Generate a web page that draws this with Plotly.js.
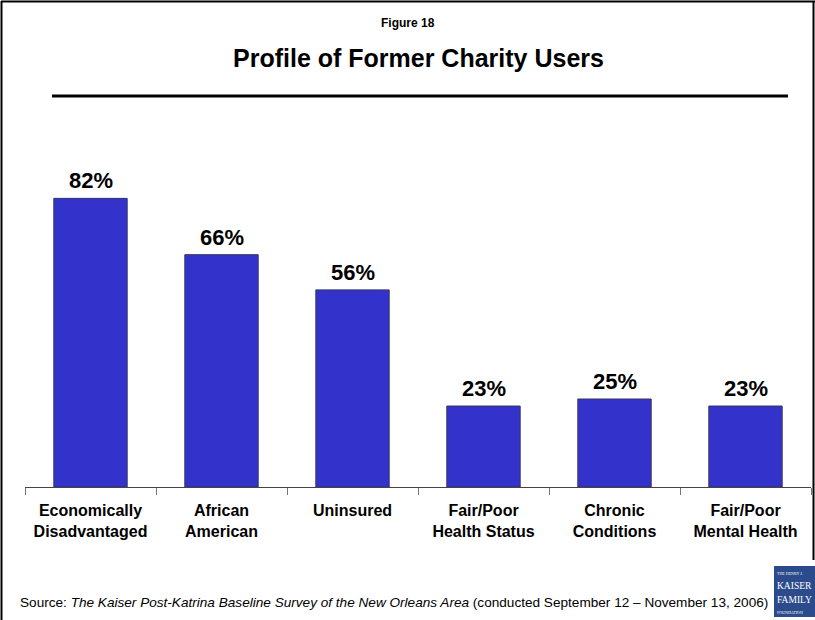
<!DOCTYPE html>
<html>
<head>
<meta charset="utf-8">
<script src="https://cdn.plot.ly/plotly-3.0.1.min.js"></script>
<style>
html,body{margin:0;padding:0;background:#fff;}
#chart{width:815px;height:620px;}
</style>
</head>
<body>
<div id="chart"></div>
<script>
const categories = ["Economically<br>Disadvantaged","African<br>American","Uninsured","Fair/Poor<br>Health Status","Chronic<br>Conditions","Fair/Poor<br>Mental Health"];
const values = [82, 66, 56, 23, 25, 23];
const valueLabels = values.map(v => v + "%");
const logoLines = ["THE HENRY J.", "KAISER", "FAMILY", "FOUNDATION"];

const FONT = "Liberation Sans, Arial, sans-serif";
const SERIF = "Liberation Serif, Times New Roman, serif";
// pixel -> paper helpers (plot area: x 25..811, y 135..487)
const L = 25, R = 4, T = 135, B = 133, W = 815, H = 620;
const PW = W - L - R, PH = H - T - B;
const px = x => (x - L) / PW;
const py = y => (H - B - y) / PH;

const trace = {
  type: "bar",
  x: categories,
  y: values,
  width: 0.56,
  marker: {color: "#3333CC", line: {color: "#333366", width: 1}},
  hoverinfo: "none",
  cliponaxis: false
};

const annotations = categories.map((c, i) => ({
  x: c, y: values[i], xref: "x", yref: "y",
  text: "<b>" + valueLabels[i] + "</b>",
  showarrow: false, yanchor: "bottom", yshift: 3,
  font: {family: FONT, size: 22, color: "#000"}
}));

annotations.push(
  {xref: "paper", yref: "paper", x: px(407.5), y: py(23), text: "<b>Figure 18</b>", showarrow: false,
   xanchor: "center", yanchor: "middle", font: {family: FONT, size: 12, color: "#000"}},
  {xref: "paper", yref: "paper", x: px(418), y: py(58), text: "<b>Profile of Former Charity Users</b>", showarrow: false,
   xanchor: "center", yanchor: "middle", font: {family: FONT, size: 25, color: "#000"}},
  {xref: "paper", yref: "paper", x: px(18), y: py(602),
   text: "Source: <i>The Kaiser Post-Katrina Baseline Survey of the New Orleans Area</i> (conducted September 12 \u2013 November 13, 2006)",
   showarrow: false, xanchor: "left", yanchor: "middle", font: {family: FONT, size: 13.6, color: "#000"}}
);

const logoY = [573, 586, 600, 612];
const logoSize = [4, 9.5, 9.5, 4];
logoLines.forEach((t, i) => annotations.push({
  xref: "paper", yref: "paper", x: px(776), y: py(logoY[i]), text: t, showarrow: false,
  xanchor: "left", yanchor: "middle", borderpad: 0,
  font: {family: SERIF, size: logoSize[i], color: "#fff"}
}));

const shapes = [
  // frame
  {type: "line", xref: "paper", yref: "paper", x0: px(1.5), x1: px(1.5), y0: py(1), y1: py(625), line: {color: "#000", width: 2}},
  {type: "line", xref: "paper", yref: "paper", x0: px(1), x1: px(815), y0: py(1.5), y1: py(1.5), line: {color: "#000", width: 2}},
  {type: "line", xref: "paper", yref: "paper", x0: px(813.5), x1: px(813.5), y0: py(1), y1: py(560), line: {color: "#000", width: 2}},
  // rule under the title
  {type: "line", xref: "paper", yref: "paper", x0: px(52), x1: px(788), y0: py(96), y1: py(96), line: {color: "#000", width: 3}},
  // logo box
  {type: "rect", xref: "paper", yref: "paper", x0: px(774), x1: px(818), y0: py(566), y1: py(617), fillcolor: "#2C4B8C", line: {width: 0}, layer: "below"}
];

const layout = {
  width: W, height: H,
  margin: {l: L, r: R, t: T, b: B, pad: 0},
  paper_bgcolor: "#fff", plot_bgcolor: "#fff",
  showlegend: false,
  font: {family: FONT, color: "#000"},
  xaxis: {
    type: "category",
    showline: true, linecolor: "#444", linewidth: 1,
    ticks: "outside", tickson: "boundaries", ticklen: 7, tickcolor: "#777", tickwidth: 1,
    tickfont: {family: FONT, size: 16, color: "#000", weight: "bold"},
    ticklabelstandoff: 9,
    showgrid: false, zeroline: false, fixedrange: true
  },
  yaxis: {
    range: [0, 100], visible: false, showgrid: false, zeroline: false, fixedrange: true
  },
  annotations: annotations,
  shapes: shapes
};

Plotly.newPlot("chart", [trace], layout, {displayModeBar: false, staticPlot: true});
</script>
</body>
</html>
